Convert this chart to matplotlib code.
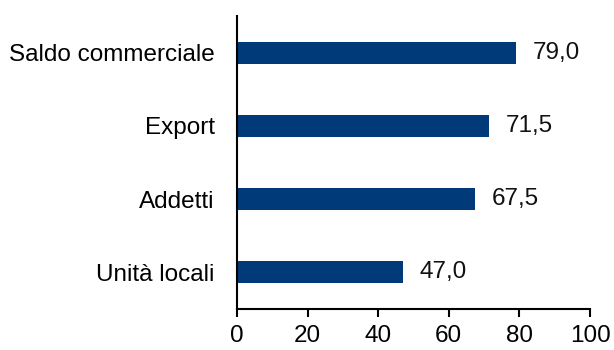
import matplotlib
matplotlib.use("Agg")
import matplotlib.pyplot as plt

categories = ["Unità locali", "Addetti", "Export", "Saldo commerciale"]
values = [47.0, 67.5, 71.5, 79.0]
xticks = [0, 20, 40, 60, 80, 100]

plt.rcParams["font.family"] = ["Liberation Sans", "DejaVu Sans"]

fig = plt.figure(figsize=(6.14, 3.5), dpi=100)
ax = fig.add_axes([237 / 614, 1 - 309 / 350, (590 - 237) / 614, (309 - 16) / 350])

bar_color = "#003a78"
ax.barh(range(len(categories)), values, height=0.3, color=bar_color)

for i, v in enumerate(values):
    ax.annotate(f"{v:.1f}".replace(".", ","), xy=(v, i), xytext=(12, 0),
                textcoords="offset points", va="center", ha="left",
                fontsize=17.5, color="#111111")

ax.set_xlim(0, 100)
ax.set_ylim(-0.5, len(categories) - 0.5)
ax.set_xticks(xticks)
ax.set_xticklabels([str(t) for t in xticks])
ax.set_yticks(range(len(categories)))
ax.set_yticklabels(categories)

ax.spines["top"].set_visible(False)
ax.spines["right"].set_visible(False)
for s in ("left", "bottom"):
    ax.spines[s].set_linewidth(1.5)
    ax.spines[s].set_color("black")

ax.tick_params(axis="x", length=6, width=1.5, labelsize=17.5, pad=5.5, colors="black")
ax.tick_params(axis="y", length=0, labelsize=17.5, pad=16, colors="black")

fig.savefig("out.png", dpi=100)
